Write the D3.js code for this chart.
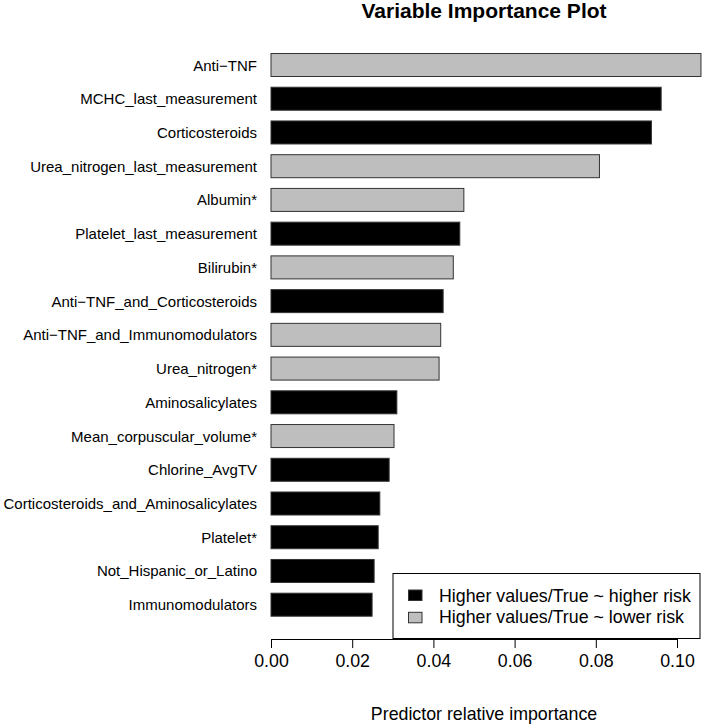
<!DOCTYPE html>
<html>
<head>
<meta charset="utf-8">
<script src="https://cdn.jsdelivr.net/npm/d3@7"></script>
<style>
  body { margin: 0; background: #fff; }
  svg { font-family: "Liberation Sans", Arial, Helvetica, sans-serif; }
</style>
</head>
<body>
<svg id="chart"></svg>
<script>
// variables, top to bottom
var categories = [
  "Anti\u2212TNF",
  "MCHC_last_measurement",
  "Corticosteroids",
  "Urea_nitrogen_last_measurement",
  "Albumin*",
  "Platelet_last_measurement",
  "Bilirubin*",
  "Anti\u2212TNF_and_Corticosteroids",
  "Anti\u2212TNF_and_Immunomodulators",
  "Urea_nitrogen*",
  "Aminosalicylates",
  "Mean_corpuscular_volume*",
  "Chlorine_AvgTV",
  "Corticosteroids_and_Aminosalicylates",
  "Platelet*",
  "Not_Hispanic_or_Latino",
  "Immunomodulators"
];
var importance = [0.1059, 0.0961, 0.0937, 0.0809, 0.0475, 0.0465, 0.0449, 0.0424,
                  0.0418, 0.0414, 0.0310, 0.0303, 0.0291, 0.0268, 0.0264, 0.0254, 0.0249];
// 1 = higher values/true ~ higher risk, 0 = ~ lower risk
var higherRisk = [0, 1, 1, 0, 0, 1, 0, 1, 0, 0, 1, 0, 1, 1, 1, 1, 1];
var legendLabels = ["Higher values/True ~ higher risk", "Higher values/True ~ lower risk"];
var tickValues = [0, 0.02, 0.04, 0.06, 0.08, 0.10];

var width = 703, height = 727;
var barH = 23;

var svg = d3.select('#chart')
  .attr('width', width)
  .attr('height', height);

var x = d3.scaleLinear()
  .domain([0, 0.1])
  .range([271, 677]);

var y = d3.scalePoint()
  .domain(categories)
  .range([65, 604.7]);

var fill = function(i) { return higherRisk[i] ? '#000000' : '#bebebe'; };

// bars
svg.selectAll('rect.bar')
  .data(importance)
  .enter()
  .append('rect')
  .attr('class', 'bar')
  .attr('x', x(0))
  .attr('y', function(d, i) { return y(categories[i]) - barH / 2; })
  .attr('width', function(d) { return x(d) - x(0); })
  .attr('height', barH)
  .attr('fill', function(d, i) { return fill(i); })
  .attr('stroke', '#333')
  .attr('stroke-width', 1);

// category labels
svg.selectAll('text.cat')
  .data(categories)
  .enter()
  .append('text')
  .attr('class', 'cat')
  .attr('x', 257)
  .attr('y', function(d) { return y(d) + 5.5; })
  .attr('text-anchor', 'end')
  .style('font-size', '15px')
  .text(function(d) { return d; });

// legend
var leg = svg.append('g');
leg.append('rect')
  .attr('x', 393).attr('y', 573.5)
  .attr('width', 307).attr('height', 65)
  .attr('fill', '#fff').attr('stroke', '#000');
leg.selectAll('rect.key')
  .data(legendLabels)
  .enter()
  .append('rect')
  .attr('class', 'key')
  .attr('x', 408.5)
  .attr('y', function(d, i) { return 590 + i * 22.3; })
  .attr('width', 13.5).attr('height', 10.5)
  .attr('fill', function(d, i) { return i === 0 ? '#000' : '#bebebe'; })
  .attr('stroke', '#333');
leg.selectAll('text')
  .data(legendLabels)
  .enter()
  .append('text')
  .attr('x', 439)
  .attr('y', function(d, i) { return 601.7 + i * 21.6; })
  .style('font-size', '17.8px')
  .text(function(d) { return d; });

// x axis
var axis = svg.append('g')
  .attr('transform', 'translate(0,639)')
  .call(d3.axisBottom(x).tickValues(tickValues).tickSize(9).tickPadding(6)
    .tickFormat(d3.format('.2f')));
axis.select('.domain').attr('stroke', '#000').attr('d', 'M' + x(0) + ',0.5H' + x(0.1));
axis.selectAll('.tick line').attr('stroke', '#000');
axis.selectAll('.tick text')
  .style('font-size', '17.8px')
  .style('font-family', '"Liberation Sans", Arial, sans-serif')
  .attr('fill', '#000');

// title and axis label
svg.append('text')
  .attr('x', 484).attr('y', 17.5)
  .attr('text-anchor', 'middle')
  .style('font-size', '21px')
  .style('font-weight', 'bold')
  .text('Variable Importance Plot');

svg.append('text')
  .attr('x', 484).attr('y', 720)
  .attr('text-anchor', 'middle')
  .style('font-size', '17.8px')
  .text('Predictor relative importance');
</script>
</body>
</html>
